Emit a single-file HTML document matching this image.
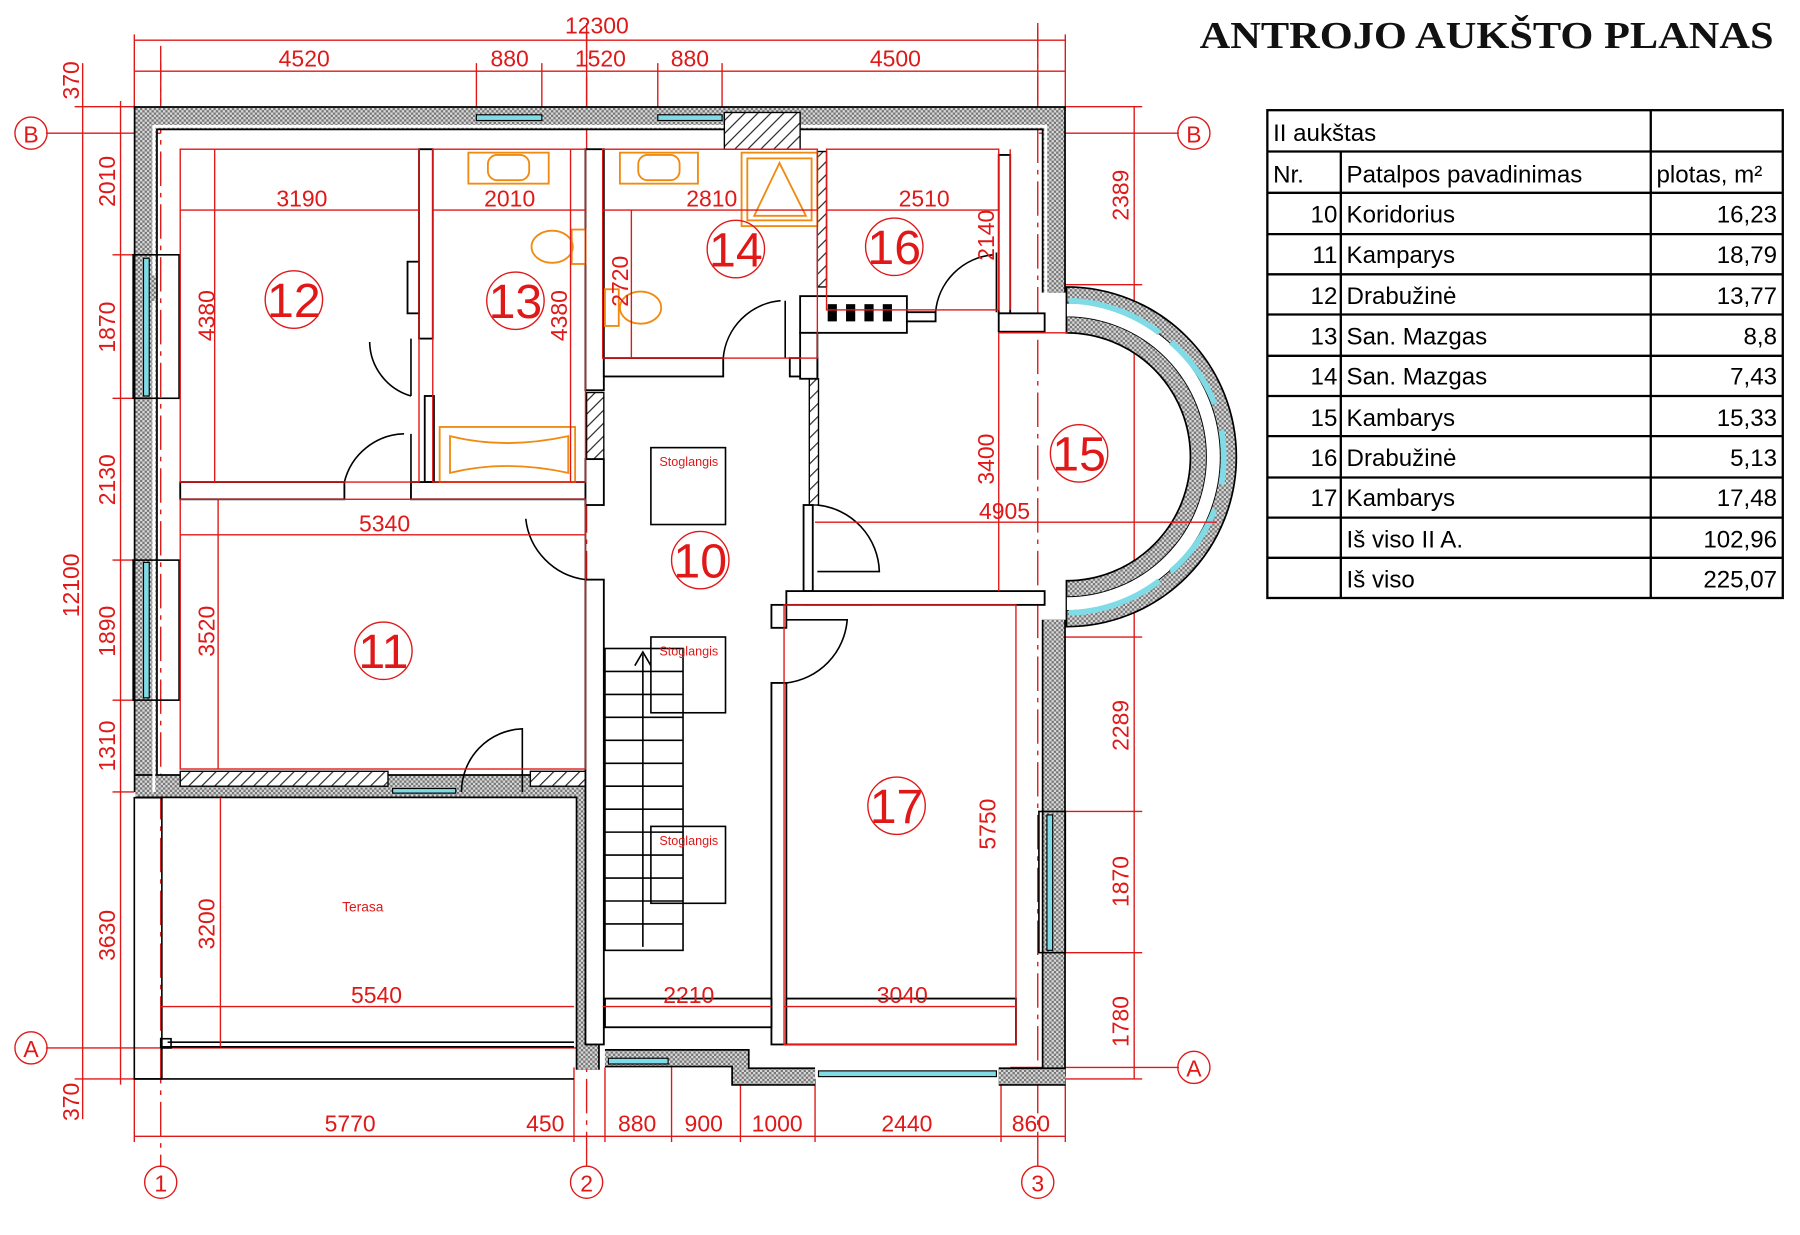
<!DOCTYPE html>
<html><head><meta charset="utf-8"><style>
html,body{margin:0;padding:0;background:#fff;}
svg{display:block;}
.d{font-family:"Liberation Sans",sans-serif;font-size:20px;fill:#e01818;text-anchor:middle;}
.r{stroke:#e01818;stroke-width:1.2;fill:none;}
.k{stroke:#000;stroke-width:1.6;fill:#fff;}
.kl{stroke:#000;stroke-width:1.4;fill:none;}
.n{font-family:"Liberation Sans",sans-serif;font-size:42px;fill:#e01818;text-anchor:middle;}
.t{font-family:"Liberation Sans",sans-serif;font-size:21px;fill:#000;}
.o{stroke:#f08a10;stroke-width:1.6;fill:none;}
.w{fill:#7fdbe6;stroke:#000;stroke-width:1;}
</style></head><body>
<svg width="1800" height="1235" viewBox="0 0 1568 1076" preserveAspectRatio="none" xmlns="http://www.w3.org/2000/svg">
<defs>
<pattern id="dots" width="4" height="4" patternUnits="userSpaceOnUse"><rect width="4" height="4" fill="#d8d8d8"/><rect width="2" height="2" fill="#777"/><rect x="2" y="2" width="2" height="2" fill="#777"/></pattern>
<pattern id="hatch" width="8" height="8" patternUnits="userSpaceOnUse" patternTransform="rotate(45)"><rect width="8" height="8" fill="#fff"/><line x1="0" y1="0" x2="0" y2="8" stroke="#222" stroke-width="2"/></pattern>
</defs>
<rect width="1568" height="1076" fill="#fff"/>

<!-- Title -->
<text x="1295" y="42" text-anchor="middle" font-family="'Liberation Serif',serif" font-weight="bold" font-size="33" fill="#111" textLength="500" lengthAdjust="spacingAndGlyphs">ANTROJO AUKŠTO PLANAS</text>

<!-- Table -->
<g stroke="#000" stroke-width="2" fill="none">
<rect x="1104" y="96" width="449" height="425"/>
<line x1="1438" y1="96" x2="1438" y2="521"/>
<line x1="1168" y1="132" x2="1168" y2="521"/>
<line x1="1104" y1="132" x2="1553" y2="132"/>
<line x1="1104" y1="168" x2="1553" y2="168"/>
<line x1="1104" y1="204" x2="1553" y2="204"/>
<line x1="1104" y1="239" x2="1553" y2="239"/>
<line x1="1104" y1="274" x2="1553" y2="274"/>
<line x1="1104" y1="310" x2="1553" y2="310"/>
<line x1="1104" y1="345" x2="1553" y2="345"/>
<line x1="1104" y1="380" x2="1553" y2="380"/>
<line x1="1104" y1="416" x2="1553" y2="416"/>
<line x1="1104" y1="451" x2="1553" y2="451"/>
<line x1="1104" y1="486" x2="1553" y2="486"/>
</g>
<g class="t">
<text x="1109" y="123">II aukštas</text>
<text x="1109" y="159">Nr.</text>
<text x="1173" y="159">Patalpos pavadinimas</text>
<text x="1443" y="159">plotas, m²</text>
<g text-anchor="end">
<text x="1165" y="194">10</text><text x="1165" y="229">11</text><text x="1165" y="265">12</text><text x="1165" y="300">13</text><text x="1165" y="335">14</text><text x="1165" y="371">15</text><text x="1165" y="406">16</text><text x="1165" y="441">17</text>
<text x="1548" y="194">16,23</text><text x="1548" y="229">18,79</text><text x="1548" y="265">13,77</text><text x="1548" y="300">8,8</text><text x="1548" y="335">7,43</text><text x="1548" y="371">15,33</text><text x="1548" y="406">5,13</text><text x="1548" y="441">17,48</text><text x="1548" y="477">102,96</text><text x="1548" y="512">225,07</text>
</g>
<text x="1173" y="194">Koridorius</text><text x="1173" y="229">Kamparys</text><text x="1173" y="265">Drabužinė</text><text x="1173" y="300">San. Mazgas</text><text x="1173" y="335">San. Mazgas</text><text x="1173" y="371">Kambarys</text><text x="1173" y="406">Drabužinė</text><text x="1173" y="441">Kambarys</text><text x="1173" y="477">Iš viso II A.</text><text x="1173" y="512">Iš viso</text>
</g>

<!-- Outer dimension lines -->
<g class="r">
<line x1="117" y1="35" x2="928" y2="35"/>
<line x1="117" y1="62" x2="928" y2="62"/>
<line x1="117" y1="30" x2="117" y2="95"/><line x1="928" y1="30" x2="928" y2="95"/>
<line x1="140" y1="55" x2="140" y2="90"/><line x1="415" y1="55" x2="415" y2="95"/><line x1="472" y1="55" x2="472" y2="95"/>
<line x1="511" y1="25" x2="511" y2="95"/><line x1="573" y1="55" x2="573" y2="95"/><line x1="629" y1="55" x2="629" y2="95"/><line x1="904" y1="25" x2="904" y2="90"/>
<line x1="72" y1="55" x2="72" y2="975"/>
<line x1="105" y1="88" x2="105" y2="945"/>
<line x1="65" y1="93" x2="117" y2="93"/><line x1="65" y1="940" x2="117" y2="940"/>
<line x1="98" y1="222" x2="117" y2="222"/><line x1="98" y1="347" x2="117" y2="347"/><line x1="98" y1="488" x2="117" y2="488"/><line x1="98" y1="610" x2="117" y2="610"/><line x1="98" y1="690" x2="117" y2="690"/>
<line x1="988" y1="93" x2="988" y2="940"/>
<line x1="928" y1="93" x2="995" y2="93"/><line x1="928" y1="248" x2="995" y2="248"/><line x1="928" y1="555" x2="995" y2="555"/><line x1="928" y1="707" x2="995" y2="707"/><line x1="928" y1="830" x2="995" y2="830"/><line x1="928" y1="940" x2="995" y2="940"/>
<line x1="117" y1="990" x2="928" y2="990"/>
<line x1="117" y1="940" x2="117" y2="995"/><line x1="500" y1="930" x2="500" y2="995"/><line x1="527" y1="930" x2="527" y2="995"/><line x1="585" y1="920" x2="585" y2="995"/><line x1="645" y1="940" x2="645" y2="995"/><line x1="710" y1="940" x2="710" y2="995"/><line x1="872" y1="940" x2="872" y2="995"/><line x1="928" y1="940" x2="928" y2="995"/>
</g>
<!-- axes -->
<g class="r">
<line x1="40" y1="116" x2="140" y2="116"/>
<line x1="905" y1="116" x2="1027" y2="116"/>
<line x1="40" y1="913" x2="520" y2="913"/>
<line x1="880" y1="930" x2="1027" y2="930"/>
</g>
<g class="r" stroke-dasharray="30 6 4 6">
<line x1="140" y1="40" x2="140" y2="1017"/>
<line x1="511" y1="20" x2="511" y2="1017"/>
<line x1="904" y1="20" x2="904" y2="1017"/>
</g>
<g class="r" stroke-width="1.5">
<circle cx="27" cy="116" r="14"/><circle cx="1040" cy="116" r="14"/>
<circle cx="27" cy="913" r="14"/><circle cx="1040" cy="930" r="14"/>
<circle cx="140" cy="1030" r="14"/><circle cx="511" cy="1030" r="14"/><circle cx="904" cy="1030" r="14"/>
</g>
<g class="d" font-size="22">
<text x="27" y="124">B</text><text x="1040" y="124">B</text><text x="27" y="921">A</text><text x="1040" y="938">A</text>
<text x="140" y="1038">1</text><text x="511" y="1038">2</text><text x="904" y="1038">3</text>
</g>
<g class="d">
<text x="520" y="29">12300</text>
<text x="265" y="58">4520</text><text x="444" y="58">880</text><text x="523" y="58">1520</text><text x="601" y="58">880</text><text x="780" y="58">4500</text>
<text x="305" y="986">5770</text><text x="475" y="986">450</text><text x="555" y="986">880</text><text x="613" y="986">900</text><text x="677" y="986">1000</text><text x="790" y="986">2440</text><text x="898" y="986">860</text>
<g transform="rotate(-90)">
<text x="-70" y="69">370</text><text x="-510" y="69">12100</text><text x="-960" y="69">370</text>
<text x="-158" y="100">2010</text><text x="-285" y="100">1870</text><text x="-418" y="100">2130</text><text x="-550" y="100">1890</text><text x="-650" y="100">1310</text><text x="-815" y="100">3630</text>
<text x="-170" y="983">2389</text><text x="-632" y="983">2289</text><text x="-768" y="983">1870</text><text x="-890" y="983">1780</text>
</g>
</g>

<!-- Outer walls -->
<g fill="none" stroke-linejoin="miter">
<polyline points="127,262 127,103 918,103 918,255" stroke="#000" stroke-width="21"/>
<polyline points="127,262 127,103 918,103 918,255" stroke="url(#dots)" stroke-width="18"/>
<polyline points="127,690 127,262" stroke="#000" stroke-width="21"/>
<polyline points="127,690 127,262" stroke="url(#dots)" stroke-width="18"/>
<polyline points="118,685 512,685 512,932" stroke="#000" stroke-width="21"/>
<polyline points="118,685 512,685 512,932" stroke="url(#dots)" stroke-width="18"/>
<polyline points="918,540 918,938" stroke="#000" stroke-width="21"/>
<polyline points="918,540 918,938" stroke="url(#dots)" stroke-width="18"/>
<polyline points="527,922 645,922 645,938 710,938" stroke="#000" stroke-width="16"/>
<polyline points="527,922 645,922 645,938 710,938" stroke="url(#dots)" stroke-width="13"/>
<polyline points="870,938 928,938" stroke="#000" stroke-width="16"/>
<polyline points="870,938 928,938" stroke="url(#dots)" stroke-width="13"/>
<polyline points="134,240 134,110 911,110 911,262" stroke="#fff" stroke-width="2.5"/>
<polyline points="134,690 134,262" stroke="#fff" stroke-width="2.5"/>
</g>
<!-- bay -->
<path d="M929,250 A148,148 0 0 1 929,546 L929,506 A108,108 0 0 0 929,290 Z" fill="url(#dots)" stroke="#000" stroke-width="1.5"/>
<path d="M929,264 A134,134 0 0 1 929,532 L929,520 A122,122 0 0 0 929,276 Z" fill="#fff" stroke="#000" stroke-width="0.8"/>
<g stroke="#7fdbe6" stroke-width="5" fill="none">
<path d="M931,262 A136,136 0 0 1 1010,290"/>
<path d="M1020,298 A136,136 0 0 1 1058,352"/>
<path d="M1064,375 A136,136 0 0 1 1064,422"/>
<path d="M1058,444 A136,136 0 0 1 1020,498"/>
<path d="M1010,506 A136,136 0 0 1 931,534"/>
</g>
<!-- terrace -->
<g class="kl">
<rect x="117" y="695" width="24" height="245" fill="none"/>
<line x1="117" y1="940" x2="500" y2="940"/>
<line x1="141" y1="912" x2="500" y2="912"/>
<line x1="146" y1="908" x2="500" y2="908"/>
<rect x="140" y="905" width="9" height="8"/>
</g>

<!-- windows -->
<rect class="w" x="415" y="100" width="57" height="5"/>
<rect class="w" x="573" y="100" width="56" height="5"/>
<rect class="w" x="125" y="225" width="5" height="120"/>
<rect class="w" x="125" y="490" width="5" height="118"/>
<rect class="w" x="912" y="710" width="5" height="118"/>
<rect class="w" x="530" y="922" width="52" height="5"/>
<rect class="w" x="713" y="933" width="155" height="5"/>
<rect class="w" x="342" y="687" width="55" height="4"/>
<g class="kl"><rect x="116" y="222" width="40" height="125" fill="none"/><rect x="116" y="488" width="40" height="122" fill="none"/><rect x="905" y="707" width="23" height="123" fill="none"/></g>

<!-- hatched walls -->
<g stroke="#000" stroke-width="1.2" fill="url(#hatch)">
<rect x="631" y="98" width="66" height="32"/>
<rect x="157" y="672" width="181" height="13"/>
<rect x="462" y="672" width="50" height="13"/>
<rect x="511" y="342" width="15" height="58"/>
<rect x="700" y="515" width="60" height="12"/>
<rect x="712" y="132" width="8" height="118"/>
<rect x="705" y="330" width="8" height="110"/>
</g>

<!-- interior walls -->
<g class="k">
<rect x="365" y="130" width="12" height="165"/>
<rect x="370" y="345" width="8" height="75"/>
<rect x="157" y="420" width="143" height="15"/>
<rect x="358" y="420" width="152" height="15"/>
<rect x="510" y="130" width="16" height="210"/>
<rect x="510" y="400" width="16" height="40"/>
<rect x="510" y="505" width="16" height="405"/>
<rect x="526" y="312" width="104" height="16"/>
<rect x="688" y="312" width="24" height="16"/>
<rect x="697" y="258" width="93" height="32"/>
<rect x="790" y="272" width="25" height="8"/>
<rect x="870" y="135" width="10" height="138"/>
<rect x="870" y="273" width="40" height="16"/>
<rect x="697" y="290" width="15" height="40"/>
<rect x="700" y="440" width="8" height="75"/>
<rect x="672" y="527" width="13" height="20"/>
<rect x="672" y="595" width="13" height="315"/>
<rect x="685" y="515" width="225" height="12"/>
<rect x="685" y="870" width="200" height="40"/>
<rect x="527" y="870" width="145" height="25"/>
<rect x="355" y="228" width="10" height="45"/>
</g>
<g fill="#000"><rect x="721" y="265" width="8" height="15"/><rect x="737" y="265" width="8" height="15"/><rect x="753" y="265" width="8" height="15"/><rect x="769" y="265" width="8" height="15"/></g>

<!-- doors -->
<g class="kl">
<path d="M358,295 L358,345 M358,345 A50,50 0 0 1 322,298"/>
<path d="M358,378 L358,420 M300,420 A55,55 0 0 1 352,378"/>
<path d="M510,440 L510,505 M510,505 A60,60 0 0 1 458,452"/>
<path d="M684,262 L684,312 M630,312 A55,55 0 0 1 680,262"/>
<path d="M868,220 L868,272 M815,272 A55,55 0 0 1 865,222"/>
<path d="M712,440 A60,60 0 0 1 766,498 L712,498"/>
<path d="M685,595 A60,60 0 0 0 738,540 L685,540"/>
<path d="M402,690 A55,55 0 0 1 455,635 L455,690"/>
</g>

<!-- stairs -->
<g class="kl" stroke-width="1.2">
<rect x="527" y="565" width="68" height="263"/>
<line x1="527" y1="585" x2="595" y2="585"/><line x1="527" y1="605" x2="595" y2="605"/><line x1="527" y1="625" x2="595" y2="625"/><line x1="527" y1="645" x2="595" y2="645"/><line x1="527" y1="665" x2="595" y2="665"/><line x1="527" y1="685" x2="595" y2="685"/><line x1="527" y1="705" x2="595" y2="705"/><line x1="527" y1="725" x2="595" y2="725"/><line x1="527" y1="745" x2="595" y2="745"/><line x1="527" y1="765" x2="595" y2="765"/><line x1="527" y1="785" x2="595" y2="785"/><line x1="527" y1="805" x2="595" y2="805"/>
<line x1="560" y1="570" x2="560" y2="825"/><path d="M553,580 L560,568 L567,580"/>
<rect x="567" y="390" width="65" height="67"/>
<rect x="567" y="555" width="65" height="66"/>
<rect x="567" y="720" width="65" height="67"/>
</g>
<g font-family="'Liberation Sans',sans-serif" font-size="11" fill="#e01818" text-anchor="middle">
<text x="600" y="406">Stoglangis</text><text x="600" y="571">Stoglangis</text><text x="600" y="736">Stoglangis</text>
<text x="316" y="794" font-size="12">Terasa</text>
</g>

<!-- fixtures -->
<g class="o">
<rect x="408" y="133" width="70" height="27"/><rect x="425" y="135" width="36" height="22" rx="8"/>
<rect x="540" y="133" width="68" height="27"/><rect x="556" y="135" width="36" height="22" rx="8"/>
<rect x="646" y="133" width="66" height="64"/><rect x="651" y="138" width="56" height="54"/><path d="M679,142 L657,188 L702,188 Z"/>
<rect x="498" y="200" width="12" height="30"/><ellipse cx="481" cy="215" rx="18" ry="14"/>
<rect x="527" y="252" width="12" height="32"/><ellipse cx="558" cy="268" rx="18" ry="14"/>
<rect x="383" y="372" width="118" height="48"/><path d="M392,380 Q440,392 495,380 L495,412 Q440,400 392,412 Z"/>
</g>

<!-- room dims -->
<g class="r">
<rect x="157" y="130" width="208" height="290"/><line x1="157" y1="183" x2="365" y2="183"/><line x1="187" y1="130" x2="187" y2="420"/>
<rect x="377" y="130" width="133" height="290"/><line x1="377" y1="183" x2="510" y2="183"/><line x1="497" y1="130" x2="497" y2="420"/>
<rect x="525" y="130" width="187" height="182"/><line x1="525" y1="183" x2="712" y2="183"/><line x1="550" y1="183" x2="550" y2="312"/>
<rect x="720" y="130" width="150" height="140"/><line x1="720" y1="183" x2="870" y2="183"/><line x1="880" y1="130" x2="880" y2="270"/>
<line x1="710" y1="455" x2="1060" y2="455"/><line x1="870" y1="290" x2="870" y2="515"/><line x1="870" y1="290" x2="930" y2="290"/>
<rect x="157" y="435" width="353" height="235"/><line x1="157" y1="466" x2="510" y2="466"/><line x1="190" y1="435" x2="190" y2="670"/>
<line x1="140" y1="877" x2="500" y2="877"/><line x1="192" y1="695" x2="192" y2="912"/>
<line x1="525" y1="877" x2="672" y2="877"/>
<line x1="683" y1="877" x2="885" y2="877"/><rect x="683" y="527" width="202" height="383"/>
</g>
<g class="d">
<text x="263" y="180">3190</text><text x="444" y="180">2010</text><text x="620" y="180">2810</text><text x="805" y="180">2510</text>
<text x="875" y="452">4905</text><text x="335" y="463">5340</text>
<text x="328" y="874">5540</text><text x="600" y="874">2210</text><text x="786" y="874">3040</text>
<g transform="rotate(-90)">
<text x="-275" y="187">4380</text><text x="-275" y="494">4380</text><text x="-245" y="547">2720</text><text x="-205" y="866">2140</text><text x="-400" y="866">3400</text>
<text x="-550" y="187">3520</text><text x="-805" y="187">3200</text><text x="-718" y="867">5750</text>
</g>
</g>
<!-- room numbers -->
<g class="r" stroke-width="1.3">
<circle cx="256" cy="261" r="25"/><circle cx="449" cy="262" r="25"/><circle cx="641" cy="217" r="25"/><circle cx="779" cy="215" r="25"/>
<circle cx="940" cy="395" r="25"/><circle cx="610" cy="488" r="25"/><circle cx="334" cy="567" r="25"/><circle cx="781" cy="702" r="25"/>
</g>
<g class="n">
<text x="256" y="276">12</text><text x="449" y="277">13</text><text x="641" y="232">14</text><text x="779" y="230">16</text>
<text x="940" y="410">15</text><text x="610" y="503">10</text><text x="334" y="582">11</text><text x="781" y="717">17</text>
</g>
</svg>
</body></html>
